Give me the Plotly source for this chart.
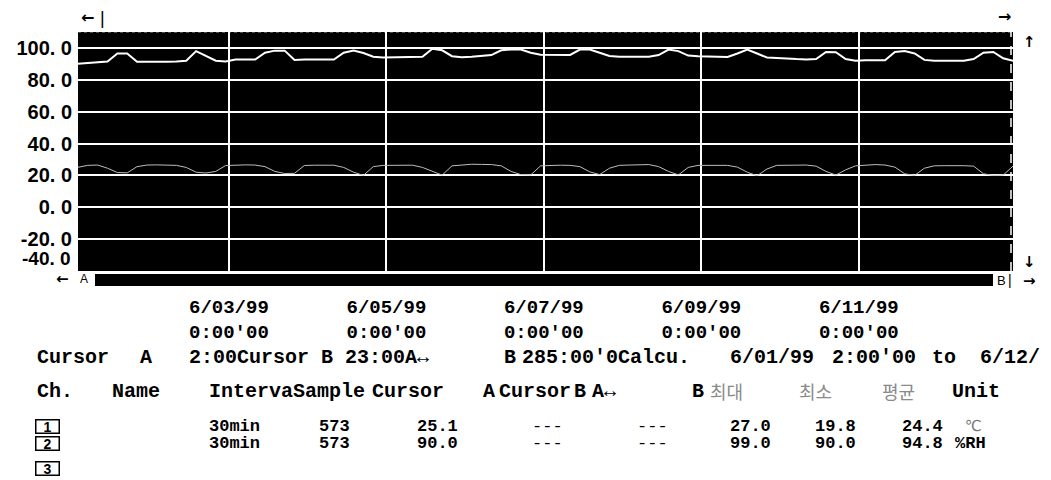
import pandas as pd
import plotly.graph_objects as go

# ---------------- data ----------------
START = "1999-06-01 02:00"
END = "1999-06-12 23:00"
STEP = "3h"

humidity = [
    90.0, 90.5, 90.8, 91.5, 96.5, 96.5, 91.3, 91.2, 91.5, 91.3, 91.5, 92.0,
    98.0, 95.0, 92.0, 91.5, 92.7, 92.7, 92.7, 97.0, 98.3, 98.3, 92.5, 92.7,
    92.7, 92.7, 92.7, 97.0, 98.3, 96.8, 94.5, 94.0, 94.2, 94.2, 94.3, 94.5,
    99.5, 98.5, 94.8, 94.2, 94.5, 95.0, 95.5, 98.5, 99.0, 99.0, 97.0, 95.8,
    95.8, 95.8, 95.6, 99.0, 99.0, 97.0, 95.0, 94.5, 94.5, 94.3, 94.5, 95.5,
    99.0, 98.0, 95.2, 94.8, 94.5, 94.3, 94.3, 96.5, 99.0, 96.5, 94.0, 93.7,
    93.2, 93.0, 92.8, 93.0, 97.5, 97.3, 93.0, 92.0, 92.2, 92.0, 92.2, 97.5,
    98.0, 96.5, 92.5, 92.0, 92.0, 91.8, 92.0, 93.0, 97.0, 97.5, 93.5, 92.0,
]
temperature = [
    25.1, 26.3, 26.5, 24.5, 21.8, 21.6, 25.5, 26.5, 26.6, 26.5, 26.3, 25.0,
    22.0, 21.5, 22.5, 26.2, 26.5, 26.6, 26.5, 25.5, 22.5, 21.2, 21.3, 26.2,
    26.4, 26.5, 26.4, 25.0, 22.0, 20.0, 25.5, 26.3, 26.4, 26.5, 26.4, 25.0,
    22.5, 20.2, 26.0, 26.6, 27.0, 26.9, 26.8, 26.0, 22.5, 20.5, 20.3, 26.0,
    26.3, 26.4, 26.3, 25.5, 22.2, 20.5, 24.5, 26.3, 26.5, 26.7, 26.8, 25.5,
    22.5, 20.3, 25.0, 26.3, 26.4, 26.5, 26.3, 25.2, 22.0, 19.8, 24.0, 26.3,
    26.4, 26.5, 26.5, 25.8, 22.5, 20.2, 23.5, 26.0, 26.3, 26.8, 26.5, 25.2,
    21.0, 20.0, 24.5, 26.0, 26.1, 26.2, 26.1, 25.8, 21.0, 20.0, 20.2, 25.8,
]

x_tickvals = ["1999-06-03", "1999-06-05", "1999-06-07", "1999-06-09", "1999-06-11"]
x_ticktext = ["6/03/99<br>0:00'00", "6/05/99<br>0:00'00", "6/07/99<br>0:00'00",
              "6/09/99<br>0:00'00", "6/11/99<br>0:00'00"]
y_tickvals = [100, 80, 60, 40, 20, 0, -20]
y_ticktext = ["100. 0", "80. 0", "60. 0", "40. 0", "20. 0", "0. 0", "-20. 0"]
y_bottom = -40
y_bottom_label = "-40. 0"
y_top = 110

# table contents
channels = ["1", "2", "3"]
intervals = ["30min", "30min"]
samples = ["573", "573"]
cursor_a_vals = ["25.1", "90.0"]
cursor_b_vals = ["---", "---"]
diff_vals = ["---", "---"]
max_vals = ["27.0", "99.0"]
min_vals = ["19.8", "90.0"]
avg_vals = ["24.4", "94.8"]
units = ["℃", "%RH"]

times = pd.date_range(START, periods=len(humidity), freq=STEP)

# ---------------- layout helpers ----------------
W, H = 1051, 480
PL, PR, PT, PB = 78, 1013, 32, 271


def fx(x):
    return (x - PL) / (PR - PL)


def fy(y):
    return (PB - y) / (PB - PT)


MONO = "Liberation Mono, DejaVu Sans Mono, monospace"
SANS = "Liberation Sans, Arial, sans-serif"
KR = "Noto Sans CJK KR, sans-serif"

annotations = []


def txt(x, y, s, size=20, family=MONO, color="black", weight="bold", anchor="left"):
    annotations.append(dict(
        x=fx(x), y=fy(y), xref="paper", yref="paper", text=s, showarrow=False,
        xanchor=anchor, yanchor="middle",
        font=dict(family=family, size=size, color=color, weight=weight)))


def box(xc, y, s):
    annotations.append(dict(
        x=fx(xc), y=fy(y), xref="paper", yref="paper", text=s, showarrow=False,
        xanchor="center", yanchor="middle", width=22, height=12,
        bordercolor="black", borderwidth=1.5, borderpad=0,
        font=dict(family=SANS, size=14, color="black", weight="bold")))


# arrows / markers around plot
txt(87, 17, "←", size=16, family="DejaVu Sans", anchor="center")
txt(102, 18, "|", size=18, family=SANS, weight="normal", anchor="center")
txt(1004, 16, "→", size=16, family="DejaVu Sans", anchor="center")
txt(1029, 42, "↑", size=15, family="DejaVu Sans", anchor="center")
txt(1029, 262, "↓", size=15, family="DejaVu Sans", anchor="center")
txt(62, 279, "←", size=15, family="DejaVu Sans", anchor="center")
txt(84, 279, "A", size=12, family=SANS, weight="normal", anchor="center")
txt(1001, 280, "B", size=13, family=SANS, weight="normal", anchor="center")
txt(1010, 280, "|", size=14, family=SANS, weight="normal", anchor="center")
txt(1029, 281, "→", size=15, family="DejaVu Sans", anchor="center")

# bottom y label (sits just above the bottom edge)
annotations.append(dict(
    x=0, y=y_bottom, xref="paper", yref="y", text=y_bottom_label, showarrow=False,
    xanchor="right", yanchor="bottom", xshift=-5, yshift=0,
    font=dict(family=SANS, size=19, color="black", weight="bold")))

# cursor row
Y0 = 357
txt(35, Y0, "Cursor")
txt(138, Y0, "A")
txt(187, Y0, "2:00Cursor B 23:00A↔")
txt(502, Y0, "B")
txt(520, Y0, "285:00'")
txt(604, Y0, "0Calcu.")
txt(728, Y0, "6/01/99")
txt(830, Y0, "2:00'00")
txt(930, Y0, "to")
txt(978, Y0, "6/12/")

# header row
Y1 = 391
txt(35, Y1, "Ch.")
txt(110, Y1, "Name")
txt(207, Y1, "IntervaSample")
txt(370, Y1, "Cursor")
txt(481, Y1, "A")
txt(497, Y1, "Cursor")
txt(572, Y1, "B")
txt(590, Y1, "A↔")
txt(690, Y1, "B")
txt(708, Y1, "최대", size=18, family=KR, color="#8a8a8a", weight="normal")
txt(797, Y1, "최소", size=18, family=KR, color="#8a8a8a", weight="normal")
txt(880, Y1, "평균", size=18, family=KR, color="#8a8a8a", weight="normal")
txt(950, Y1, "Unit")

# data rows
row_y = [426, 444, 468]
RS = 17
for i, ch in enumerate(channels):
    box(47, row_y[i], ch)
for i in range(len(intervals)):
    y = row_y[i]
    txt(207, y, intervals[i], size=RS)
    txt(317, y, samples[i], size=RS)
    txt(415, y, cursor_a_vals[i], size=RS)
    txt(530, y, cursor_b_vals[i], size=RS, weight="normal")
    txt(635, y, diff_vals[i], size=RS, weight="normal")
    txt(728, y, max_vals[i], size=RS)
    txt(813, y, min_vals[i], size=RS)
    txt(900, y, avg_vals[i], size=RS)
    if units[i] == "℃":
        txt(963, y, units[i], size=15, family="DejaVu Sans", color="#777777", weight="normal")
    else:
        txt(953, y, units[i], size=RS)

shapes = [
    # scroll bar
    dict(type="rect", xref="paper", yref="paper", x0=fx(95), x1=fx(993),
         y0=fy(286), y1=fy(274), fillcolor="black", line=dict(width=0)),
    # dashed right border
    dict(type="line", xref="paper", yref="paper", x0=fx(1011), x1=fx(1011), y0=0, y1=1,
         line=dict(color="white", width=1.5, dash="dash")),
    # top frame line
    dict(type="line", xref="paper", yref="paper", x0=0, x1=1, y0=1, y1=1,
         line=dict(color="rgba(255,255,255,0.6)", width=1, dash="dot")),
]

fig = go.Figure()
fig.add_trace(go.Scatter(x=times, y=temperature, mode="lines", name="ch1",
                         line=dict(color="#bdbdbd", width=1)))
fig.add_trace(go.Scatter(x=times, y=humidity, mode="lines", name="ch2",
                         line=dict(color="white", width=2)))

fig.update_layout(
    width=W, height=H,
    margin=dict(l=PL, r=W - PR, t=PT, b=H - PB),
    paper_bgcolor="white", plot_bgcolor="black",
    showlegend=False,
    annotations=annotations, shapes=shapes,
    xaxis=dict(type="date", range=[START, END], tickvals=x_tickvals, ticktext=x_ticktext,
               showgrid=True, gridcolor="white", gridwidth=1.5, zeroline=False,
               showline=False, ticks="", ticklabelstandoff=22,
               tickfont=dict(family=MONO, size=19, color="black", weight="bold")),
    yaxis=dict(range=[y_bottom, y_top], tickvals=y_tickvals, ticktext=y_ticktext,
               showgrid=True, gridcolor="white", gridwidth=1.5, zeroline=False,
               showline=False, ticks="", ticklabelstandoff=5,
               tickfont=dict(family=SANS, size=20, color="black", weight="bold")),
)

fig.write_html("out.html",
               config={"displayModeBar": False},
               post_script="document.body.style.margin='0px';"
                           "document.body.style.overflow='hidden';")
